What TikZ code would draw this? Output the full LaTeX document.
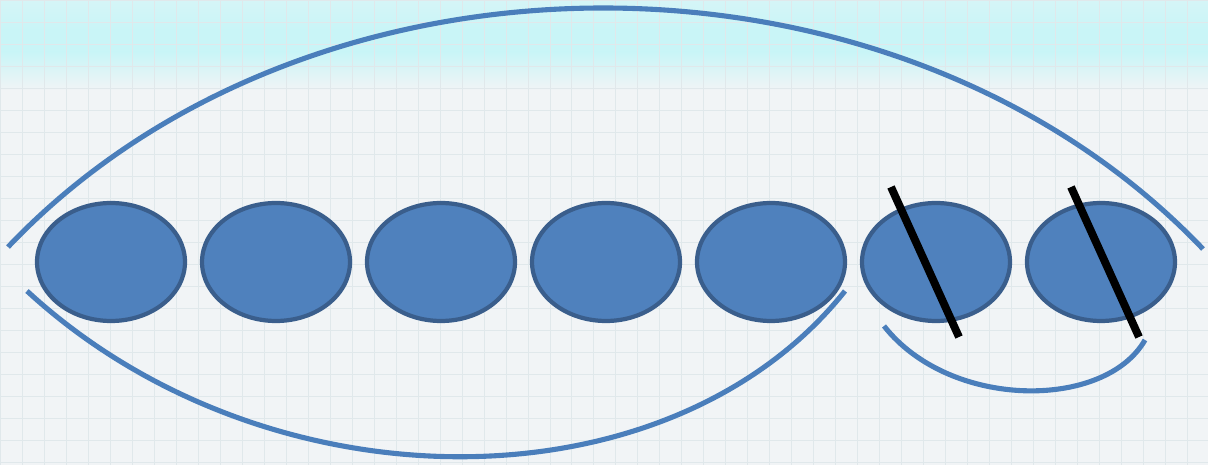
\documentclass[tikz,border=0pt]{standalone}
\usepackage{xcolor}
\usepackage{tikz}
\usetikzlibrary{shapes.geometric, calc, positioning}
\definecolor{discfill}{HTML}{4F81BD}
\definecolor{discline}{HTML}{3A5E8C}
\definecolor{arcblue}{HTML}{4A7EBB}
\definecolor{paper}{HTML}{F1F4F6}
\definecolor{bandcyan}{HTML}{C9F5F7}
\definecolor{gridline}{HTML}{E0E8EB}

\begin{document}
\begin{tikzpicture}[
  x=0.02cm, y=-0.02cm,
  disc/.style={ellipse, draw=discline, fill=discfill, line width=2.4pt,
               minimum width=2.96cm, minimum height=2.36cm, inner sep=0pt},
  link/.style={arcblue, line width=2.9pt},
  cut/.style={black, line width=4.5pt}
]
  % background: paper, cyan band and faint grid
  \clip (0,0) rectangle (1208,465);
  \fill[paper] (0,0) rectangle (1208,465);
  \shade[top color=bandcyan!70!paper, bottom color=bandcyan] (0,0) rectangle (1208,30);
  \fill[bandcyan] (0,30) rectangle (1208,52);
  \shade[top color=bandcyan, bottom color=paper!95!gridline] (0,52) rectangle (1208,90);
  \draw[gridline, line width=0.45pt] (0,0) grid[step=0.44cm] (1208,465);

  % the seven discs
  \foreach \i in {1,...,7}
    \node[disc] (e\i) at ({111+165*(\i-1)},262) {};

  % free ends of the arcs
  \coordinate (topL) at (8,247);
  \coordinate (topR) at (1203,249);
  \coordinate (lowL) at (27,291);
  \coordinate (lowR) at (845,291);
  \coordinate (subL) at (884,326);
  \coordinate (subR) at (1145,340);

  \draw[link] (topL) .. controls (311,-72) and (897,-72) .. (topR);
  \draw[link] (lowL) .. controls (267,512) and (669,512) .. (lowR);
  \draw[link] (subL) .. controls (950,410) and (1105,410) .. (subR);

  % strokes through the last two discs
  \draw[cut] ($(e6.center)+(-45,-75)$) -- ($(e6.center)+(23,75)$);
  \draw[cut] ($(e7.center)+(-30,-75)$) -- ($(e7.center)+(38,75)$);
\end{tikzpicture}
\end{document}
